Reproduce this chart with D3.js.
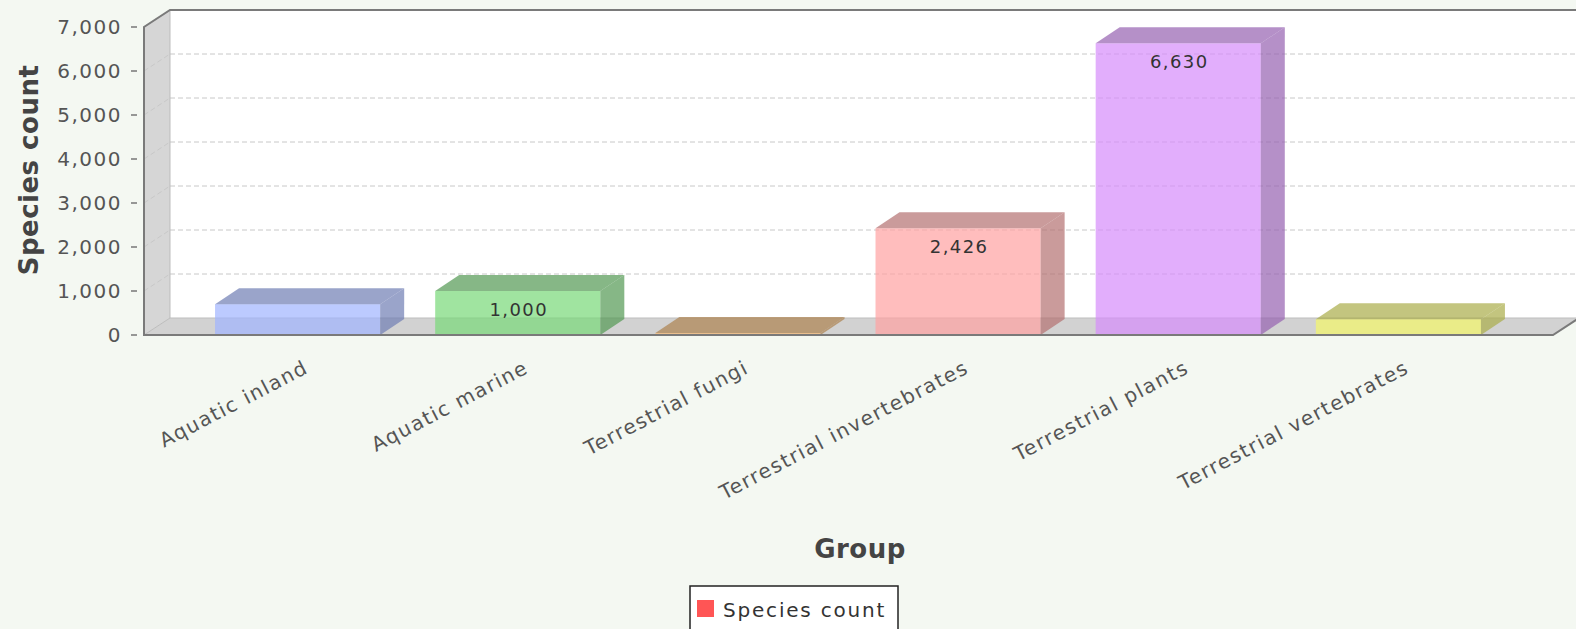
<!DOCTYPE html>
<html>
<head>
<meta charset="utf-8">
<script src="https://cdn.jsdelivr.net/npm/d3@7"></script>
<style>
  html, body { margin: 0; padding: 0; background: #f4f8f2; }
  svg { display: block; font-family: "DejaVu Sans", sans-serif; }
</style>
</head>
<body>
<svg id="chart" width="1576" height="629"></svg>
<script>
// data
const categories = ["Aquatic inland", "Aquatic marine", "Terrestrial fungi",
    "Terrestrial invertebrates", "Terrestrial plants", "Terrestrial vertebrates"];
const speciesCount = [700, 1000, 45, 2426, 6630, 360];
const barColors = ["#9fb3ff", "#77d977", "#f5b870", "#ffa1a1", "#d68bfb", "#f3f668"];
const yTicks = [0, 1000, 2000, 3000, 4000, 5000, 6000, 7000];

const svg = d3.select("#chart");
const W = 1576, H = 629;

// front face of the plot, plus the 3d offsets
const pLeft = 144, pRight = 1553, pTop = 27, pBottom = 335;
const wx = 26, wy = 17;   // walls
const bx = 24, by = 16;   // bars

const x = d3.scaleBand()
    .domain(categories)
    .range([160, 1536])
    .paddingInner(0.25)
    .paddingOuter(0.25);

const y = d3.scaleLinear()
    .domain([0, 7000])
    .range([pBottom, pTop]);

const fmt = d3.format(",");

svg.append("rect").attr("width", W).attr("height", H).attr("fill", "#f4f8f2");

// back wall
svg.append("rect")
    .attr("x", pLeft + wx).attr("y", pTop - wy)
    .attr("width", pRight - pLeft).attr("height", pBottom - pTop)
    .attr("fill", "#fff");

// left wall and floor
svg.append("polygon")
    .attr("points", [[pLeft, pTop], [pLeft + wx, pTop - wy], [pLeft + wx, pBottom - wy], [pLeft, pBottom]].join(" "))
    .attr("fill", "#d6d6d6");
svg.append("polygon")
    .attr("points", [[pLeft, pBottom], [pLeft + wx, pBottom - wy], [pRight + wx, pBottom - wy], [pRight, pBottom]].join(" "))
    .attr("fill", "#d2d2d2");

// gridlines
const grid = svg.append("g")
    .attr("stroke", "#c8c8c8")
    .attr("stroke-dasharray", "5,3")
    .attr("fill", "none");
yTicks.filter(t => t > 0 && t < 7000).forEach(t => {
    grid.append("line")
        .attr("x1", pLeft + wx).attr("x2", pRight + wx)
        .attr("y1", y(t) - wy).attr("y2", y(t) - wy);
    grid.append("line")
        .attr("x1", pLeft).attr("x2", pLeft + wx)
        .attr("y1", y(t)).attr("y2", y(t) - wy);
});

// inner wall edges
svg.append("path")
    .attr("d", `M${pLeft + wx},${pTop - wy}V${pBottom - wy}H${pRight + wx}M${pLeft},${pBottom}L${pLeft + wx},${pBottom - wy}`)
    .attr("fill", "none")
    .attr("stroke", "#bdbdbd");

// bars
const bars = svg.append("g")
    .selectAll("g")
    .data(categories.map((c, i) => ({ cat: c, value: speciesCount[i], color: barColors[i] })))
    .join("g");

bars.append("rect")
    .attr("x", d => x(d.cat))
    .attr("y", d => y(d.value))
    .attr("width", x.bandwidth())
    .attr("height", d => y(0) - y(d.value))
    .attr("fill", d => d.color)
    .attr("fill-opacity", 0.7);

bars.append("polygon")
    .attr("points", d => {
        const x0 = x(d.cat), x1 = x0 + x.bandwidth(), yt = y(d.value);
        return [[x0, yt], [x0 + bx, yt - by], [x1 + bx, yt - by], [x1, yt]].join(" ");
    })
    .attr("fill", d => d3.color(d.color).darker(1))
    .attr("fill-opacity", 0.7);

bars.append("polygon")
    .attr("points", d => {
        const x1 = x(d.cat) + x.bandwidth(), yt = y(d.value), yb = y(0);
        return [[x1, yt], [x1 + bx, yt - by], [x1 + bx, yb - by], [x1, yb]].join(" ");
    })
    .attr("fill", d => d3.color(d.color).darker(1))
    .attr("fill-opacity", 0.7);

// value labels (only where the bar is tall enough)
bars.filter(d => y(0) - y(d.value) > 36)
    .append("text")
    .attr("x", d => x(d.cat) + x.bandwidth() / 2 + 1)
    .attr("y", d => y(d.value) + 25)
    .attr("text-anchor", "middle")
    .attr("font-size", 18)
    .attr("letter-spacing", 1.4)
    .attr("fill", "#333")
    .text(d => fmt(d.value));

// plot outline
svg.append("path")
    .attr("d", `M${pLeft},${pBottom}V${pTop}L${pLeft + wx},${pTop - wy}H${pRight + wx}V${pBottom - wy}L${pRight},${pBottom}Z`)
    .attr("fill", "none")
    .attr("stroke", "#7a7a7a")
    .attr("stroke-width", 2);

// y axis ticks and labels
const yAxis = svg.append("g");
yTicks.forEach(t => {
    yAxis.append("line")
        .attr("x1", 131).attr("x2", 137)
        .attr("y1", y(t)).attr("y2", y(t))
        .attr("stroke", "#777").attr("stroke-width", 1.5);
    yAxis.append("text")
        .attr("x", 122)
        .attr("y", y(t) + 7)
        .attr("text-anchor", "end")
        .attr("font-size", 20)
        .attr("letter-spacing", 1.5)
        .attr("fill", "#555")
        .text(fmt(t));
});

svg.append("text")
    .attr("transform", "translate(38,170) rotate(-90)")
    .attr("text-anchor", "middle")
    .attr("font-size", 26)
    .attr("font-weight", "bold")
    .attr("letter-spacing", 0.5)
    .attr("fill", "#444")
    .text("Species count");

// category labels
svg.append("g")
    .selectAll("text")
    .data(categories)
    .join("text")
    .attr("transform", d => `translate(${x(d) + x.bandwidth() / 2 + 12},372) rotate(-27.5)`)
    .attr("text-anchor", "end")
    .attr("font-size", 20)
    .attr("letter-spacing", 1.5)
    .attr("fill", "#555")
    .text(d => d);

svg.append("text")
    .attr("x", 860).attr("y", 558)
    .attr("text-anchor", "middle")
    .attr("font-size", 26)
    .attr("font-weight", "bold")
    .attr("letter-spacing", 0.5)
    .attr("fill", "#444")
    .text("Group");

// legend
const legend = svg.append("g");
legend.append("rect")
    .attr("x", 690).attr("y", 586)
    .attr("width", 208).attr("height", 60)
    .attr("fill", "#fff")
    .attr("stroke", "#222")
    .attr("stroke-width", 1.5);
legend.append("rect")
    .attr("x", 697).attr("y", 600)
    .attr("width", 17).attr("height", 17)
    .attr("fill", "#ff5555");
legend.append("text")
    .attr("x", 723).attr("y", 617)
    .attr("font-size", 20)
    .attr("letter-spacing", 1.8)
    .attr("fill", "#333")
    .text("Species count");
</script>
</body>
</html>
